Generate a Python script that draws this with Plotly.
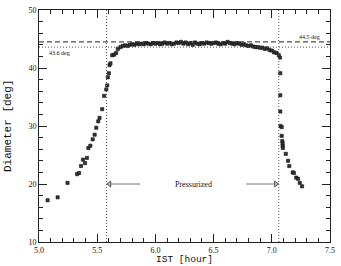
import plotly.graph_objects as go

# ---- data ----
rise_x = [5.074, 5.160, 5.245, 5.327, 5.344, 5.361, 5.378, 5.395, 5.412, 5.424,
          5.441, 5.461, 5.478, 5.492, 5.509, 5.520, 5.543, 5.560, 5.578, 5.586,
          5.591, 5.600, 5.606, 5.614, 5.629, 5.646, 5.663, 5.677]
rise_y = [17.2, 17.7, 20.2, 21.7, 21.9, 23.1, 24.2, 23.6, 24.5, 26.2,
          26.6, 27.7, 28.5, 29.7, 30.8, 31.4, 32.9, 35.2, 36.3, 37.0,
          38.4, 39.1, 40.5, 40.8, 42.2, 42.3, 42.6, 43.3]

plat_x = [5.70, 5.72, 5.74, 5.76, 5.78, 5.80, 5.82, 5.84, 5.86, 5.88,
          5.90, 5.92, 5.94, 5.96, 5.98, 6.00, 6.02, 6.04, 6.06, 6.08,
          6.10, 6.12, 6.14, 6.16, 6.18, 6.20, 6.22, 6.24, 6.26, 6.28,
          6.30, 6.32, 6.34, 6.36, 6.38, 6.40, 6.42, 6.44, 6.46, 6.48,
          6.50, 6.52, 6.54, 6.56, 6.58, 6.60, 6.62, 6.64, 6.66, 6.68,
          6.70, 6.72, 6.74, 6.76, 6.78, 6.80, 6.82, 6.84, 6.86, 6.88,
          6.90, 6.92, 6.94, 6.96, 6.98, 7.00, 7.02, 7.04]
plat_y = [43.6, 43.8, 43.9, 43.8, 44.0, 44.1, 44.0, 44.2, 44.1, 44.2,
          44.1, 44.3, 44.2, 44.1, 44.3, 44.2, 44.3, 44.1, 44.2, 44.4,
          44.2, 44.3, 44.1, 44.2, 44.4, 44.3, 44.5, 44.2, 44.4, 44.1,
          44.3, 44.0, 44.4, 44.2, 44.1, 44.3, 44.2, 44.4, 44.3, 44.2,
          44.3, 44.4, 44.2, 44.1, 44.3, 44.2, 44.5, 44.3, 44.2, 44.1,
          44.3, 44.2, 44.0, 44.1, 43.9, 43.8, 43.9, 43.7, 43.6, 43.6,
          43.5, 43.5, 43.3, 43.4, 43.1, 43.0, 42.7, 42.6]

fall_x = [7.060, 7.070, 7.073, 7.073, 7.073, 7.075, 7.085, 7.085, 7.090, 7.093,
          7.093, 7.095, 7.120, 7.140, 7.150, 7.180, 7.190, 7.210, 7.225, 7.240, 7.260]
fall_y = [42.2, 41.8, 39.1, 35.3, 32.5, 30.0, 29.8, 28.3, 27.4, 27.0,
          26.6, 26.2, 25.2, 24.0, 23.1, 22.0, 21.9, 21.1, 20.9, 20.2, 19.6]

ref_levels = [44.5, 43.6]          # dashed, dotted
ref_labels = ["44.5 deg", "43.6 deg"]
press_times = [5.58, 7.06]         # pressurization start / end
arrow_y = 20
arrow_left = [5.58, 5.87]
arrow_right = [6.78, 7.06]
press_label = "Pressurized"
press_label_x = 6.33

xs = rise_x + plat_x + fall_x
ys = rise_y + plat_y + fall_y

fig = go.Figure()
fig.add_trace(go.Scatter(
    x=xs, y=ys, mode="markers",
    marker=dict(symbol="square", size=3.2, color="#333333",
                line=dict(width=0.6, color="#111")),
    showlegend=False, hoverinfo="skip"))

# reference lines
fig.add_shape(type="line", xref="paper", x0=0, x1=1, y0=ref_levels[0], y1=ref_levels[0],
              line=dict(color="#222", width=1, dash="5px,3px"))
fig.add_shape(type="line", xref="paper", x0=0, x1=1, y0=ref_levels[1], y1=ref_levels[1],
              line=dict(color="#555", width=1, dash="1px,2px"))
for t in press_times:
    fig.add_shape(type="line", yref="paper", y0=0, y1=1, x0=t, x1=t,
                  line=dict(color="#555", width=1, dash="1px,2px"))

# arrows
fig.add_shape(type="line", x0=arrow_left[0], x1=arrow_left[1], y0=arrow_y, y1=arrow_y,
              line=dict(color="#777", width=1))
fig.add_shape(type="line", x0=arrow_right[0], x1=arrow_right[1], y0=arrow_y, y1=arrow_y,
              line=dict(color="#777", width=1))
fig.add_trace(go.Scatter(
    x=[arrow_left[0] + 0.025, arrow_right[1] - 0.025], y=[arrow_y, arrow_y], mode="markers",
    marker=dict(symbol=["triangle-left-open", "triangle-right-open"], size=5,
                color="#444", line=dict(width=1)),
    showlegend=False, hoverinfo="skip"))

serif = "Liberation Serif, DejaVu Serif, serif"
fig.add_annotation(x=press_label_x, y=arrow_y, text=press_label, showarrow=False,
                   font=dict(family=serif, size=8, color="#111"))
fig.add_annotation(x=5.07, y=ref_levels[1], text=ref_labels[1], showarrow=False,
                   xanchor="left", yanchor="top", yshift=-1,
                   font=dict(family=serif, size=6, color="#111"))
fig.add_annotation(x=7.43, y=ref_levels[0], text=ref_labels[0], showarrow=False,
                   xanchor="right", yanchor="bottom", yshift=0,
                   font=dict(family=serif, size=6, color="#111"))

# axis titles
fig.add_annotation(xref="paper", yref="paper", x=0.5, y=0, yshift=-24.8,
                   text="IST [hour]", showarrow=False, yanchor="bottom",
                   font=dict(family="Liberation Mono, monospace", size=9.5, color="#111"))
fig.add_annotation(xref="paper", yref="paper", x=0, xshift=-31, y=0.5,
                   text="Diameter [deg]", showarrow=False, textangle=-90,
                   xanchor="center",
                   font=dict(family="Liberation Mono, monospace", size=11, color="#111"))

axis_common = dict(showgrid=False, zeroline=False, showline=True, linecolor="#222",
                   linewidth=1, mirror="allticks", ticks="inside", tickcolor="#222",
                   ticklen=8, tickwidth=1,
                   tickfont=dict(family=serif, size=8, color="#111"))
fig.update_xaxes(range=[5.0, 7.5], dtick=0.5, tick0=5.0, tickformat=".1f",
                 ticklabelstandoff=0,
                 minor=dict(dtick=0.1, ticks="inside", ticklen=4, tickcolor="#222"),
                 **axis_common)
fig.update_yaxes(range=[10, 50], dtick=10, tick0=10,
                 minor=dict(dtick=2, ticks="inside", ticklen=4, tickcolor="#222"),
                 **axis_common)

fig.update_layout(width=341, height=266, margin=dict(l=39, r=9, t=6, b=24),
                  plot_bgcolor="white", paper_bgcolor="white")
fig.write_html("out.html")
